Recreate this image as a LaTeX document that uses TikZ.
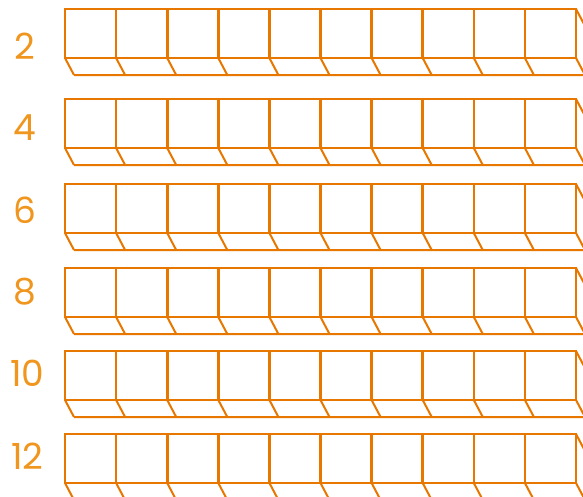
\documentclass[tikz,border=0pt]{standalone}
\usepackage{fontspec}
\setmainfont{Poppins}
\definecolor{boxline}{RGB}{232,119,0}
\definecolor{rowlabel}{RGB}{240,150,30}
\tikzset{
  cell/.style={draw=boxline, line width=2pt, line join=miter},
  divider/.style={cell, line width=2.6pt},
  rowtag/.style={text=rowlabel, font=\fontsize{36}{36}\selectfont, inner sep=0pt}
}
\begin{document}
\begin{tikzpicture}[x=1pt, y=-1pt]
  \useasboundingbox (0,0) rectangle (583,496);
  \clip (0,0) rectangle (583,496);
  % One strip of ten boxes per row, with its label on the left
  \foreach \t/\lab/\lx/\ly in {9/2/25/46, 99/4/25/128, 184/6/25/210, 268/8/25/292, 351/10/27.5/373, 434/12/27.5/456} {
    \pgfmathsetmacro{\b}{\t+49}
    \pgfmathsetmacro{\bb}{\b+17}
    % front faces
    \draw[cell] (65,\t) rectangle (576,\b);
    \foreach \k in {1,...,9} {\draw[divider] (65+51.1*\k,\t) -- (65+51.1*\k,\b);}
    % floor of the strip
    \foreach \k in {0,...,10} {\draw[cell] (65+51.1*\k,\b) -- (74+51.1*\k,\bb);}
    \draw[cell] (74,\bb) -- (585,\bb) -- (585,\t+17) -- (576,\t);
    \node[rowtag] (tag\lab) at (\lx,\ly) {\lab};
  }
\end{tikzpicture}
\end{document}
